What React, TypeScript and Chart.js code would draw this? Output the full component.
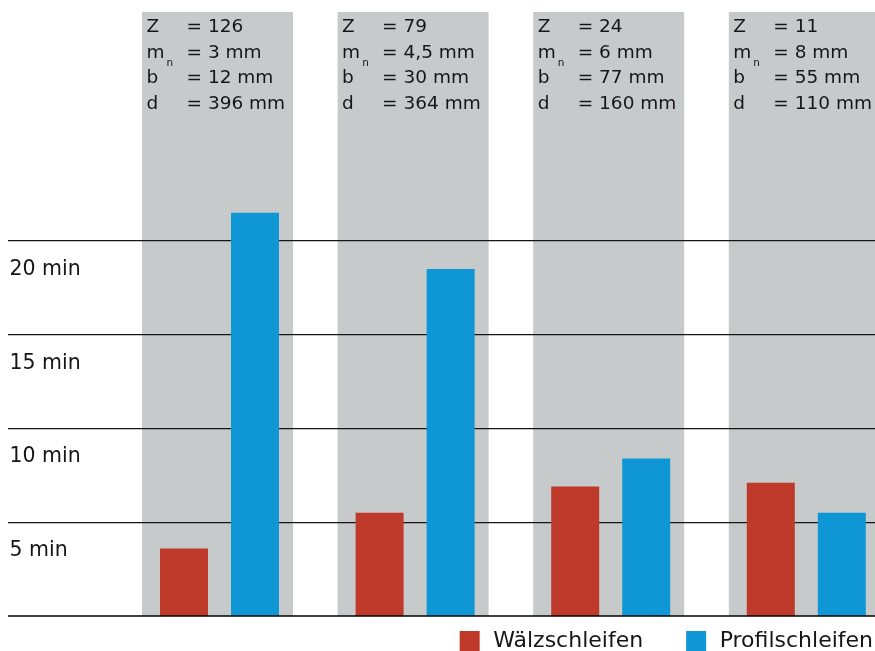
import React, { useEffect, useRef } from 'react';
import { Chart, registerables } from 'chart.js';

Chart.register(...registerables);

const FONT = '"DejaVu Sans", "Noto Sans", sans-serif';

// ---- data ----
const categories = [1, 2, 3, 4];
const zValues = ['126', '79', '24', '11'];
const mnValues = ['3 mm', '4,5 mm', '6 mm', '8 mm'];
const bValues = ['12 mm', '30 mm', '77 mm', '55 mm'];
const dValues = ['396 mm', '364 mm', '160 mm', '110 mm'];
const seriesLabels = ['Wälzschleifen', 'Profilschleifen'];
const waelzValues = [3.6, 5.5, 6.9, 7.1];
const profilValues = [21.5, 18.5, 8.4, 5.5];
const yTickValues = [5, 10, 15, 20];
const tickUnit = 'min';

// ---- styles ----
const RED = '#bf3a2a';
const BLUE = '#0f96d4';
const GRAY = '#c7cacb';
const TEXT = '#161616';

const grayColumnsPlugin = {
  id: 'grayColumns',
  beforeDraw(chart: any) {
    const { ctx, chartArea, scales } = chart;
    const x = scales.x;
    ctx.save();
    ctx.fillStyle = GRAY;
    categories.forEach((c) => {
      const l = x.getPixelForValue(c - 0.3962);
      const r = x.getPixelForValue(c + 0.3758);
      ctx.fillRect(l, chartArea.top, r - l, chartArea.bottom - chartArea.top);
    });
    // parameter text
    ctx.fillStyle = TEXT;
    ctx.textBaseline = 'alphabetic';
    ctx.textAlign = 'left';
    categories.forEach((c, i) => {
      const l = x.getPixelForValue(c - 0.3962);
      const rows = [
        ['Z', zValues[i], ''],
        ['m', mnValues[i], 'n'],
        ['b', bValues[i], ''],
        ['d', dValues[i], ''],
      ];
      rows.forEach((row, k) => {
        const base = chartArea.top + 20 + k * 25.6;
        ctx.font = `18.5px ${FONT}`;
        ctx.fillText(row[0], l + 4.5, base);
        const w = ctx.measureText(row[0]).width;
        ctx.fillText('= ' + row[1], l + 44.5, base);
        if (row[2]) {
          ctx.font = `10.5px ${FONT}`;
          ctx.fillText(row[2], l + 4.5 + w + 2, base + 8);
        }
      });
    });
    ctx.restore();
  },
};

const baselinePlugin = {
  id: 'baseline',
  afterDatasetsDraw(chart: any) {
    const { ctx, chartArea, scales } = chart;
    const y0 = scales.y.getPixelForValue(0);
    ctx.save();
    ctx.strokeStyle = 'rgba(0,0,0,0.75)';
    ctx.lineWidth = 2;
    ctx.beginPath();
    ctx.moveTo(chartArea.left, y0);
    ctx.lineTo(chartArea.right, y0);
    ctx.stroke();
    ctx.restore();
  },
};

const legendPlugin = {
  id: 'customLegend',
  afterDraw(chart: any) {
    const { ctx, chartArea } = chart;
    const items = chart.data.datasets.map((d: any) => ({ text: d.label, color: d.backgroundColor }));
    ctx.save();
    ctx.font = `22px ${FONT}`;
    const box = 20;
    const gapText = 13.5;
    const gapItem = 43;
    const widths = items.map((it: any) => ctx.measureText(it.text).width);
    let total = 0;
    items.forEach((_: any, i: number) => {
      total += box + gapText + widths[i] + (i ? gapItem : 0);
    });
    let xPos = chart.width - 2 - total;
    const boxTop = chartArea.bottom + 15;
    const base = chartArea.bottom + 31;
    ctx.textBaseline = 'alphabetic';
    ctx.textAlign = 'left';
    items.forEach((it: any, i: number) => {
      ctx.fillStyle = it.color;
      ctx.fillRect(xPos, boxTop, box, box);
      ctx.fillStyle = TEXT;
      ctx.fillText(it.text, xPos + box + gapText, base);
      xPos += box + gapText + widths[i] + gapItem;
    });
    ctx.restore();
  },
};

export default function App() {
  const ref = useRef<HTMLCanvasElement | null>(null);

  useEffect(() => {
    document.body.style.overflow = 'hidden';
    document.documentElement.style.overflow = 'hidden';
    if (!ref.current) return;
    const chart = new Chart(ref.current, {
      type: 'bar',
      data: {
        datasets: [
          {
            label: seriesLabels[0],
            data: categories.map((c, i) => ({ x: c, y: waelzValues[i] })),
            backgroundColor: RED,
            borderWidth: 0,
            categoryPercentage: 0.726,
            barPercentage: 0.676,
          },
          {
            label: seriesLabels[1],
            data: categories.map((c, i) => ({ x: c, y: profilValues[i] })),
            backgroundColor: BLUE,
            borderWidth: 0,
            categoryPercentage: 0.726,
            barPercentage: 0.676,
          },
        ],
      },
      options: {
        animation: false,
        responsive: false,
        layout: { padding: { top: 4, left: 0, right: 0, bottom: 35 } },
        plugins: {
          legend: { display: false },
          tooltip: { enabled: false },
        },
        scales: {
          x: {
            type: 'linear',
            display: false,
            offset: false,
            min: -0.0813,
            max: 4.3512,
            ticks: { stepSize: 1, includeBounds: false },
          },
          y: {
            type: 'linear',
            min: 0,
            max: 32.21,
            border: { display: false },
            grid: {
              drawTicks: false,
              color: '#161616',
              lineWidth: 1.3,
            },
            afterFit: (scale: any) => {
              scale.width = 0;
              scale.paddingTop = 0;
              scale.paddingBottom = 0;
              scale.paddingLeft = 0;
              scale.paddingRight = 0;
            },
            ticks: {
              stepSize: 5,
              includeBounds: false,
              mirror: true,
              padding: 1.5,
              labelOffset: 28.5,
              color: TEXT,
              font: { family: FONT, size: 20.5 },
              autoSkip: false,
              callback: (v: any) => (yTickValues.includes(Number(v)) ? `${v} ${tickUnit}` : null),
            },
          },
        },
      },
      plugins: [grayColumnsPlugin, baselinePlugin, legendPlugin],
    } as any);
    return () => chart.destroy();
  }, []);

  return (
    <div style={{ position: 'fixed', left: 8, top: 8, width: 867, height: 643 }}>
      <canvas ref={ref} width={867} height={643} style={{ display: 'block' }} />
    </div>
  );
}
